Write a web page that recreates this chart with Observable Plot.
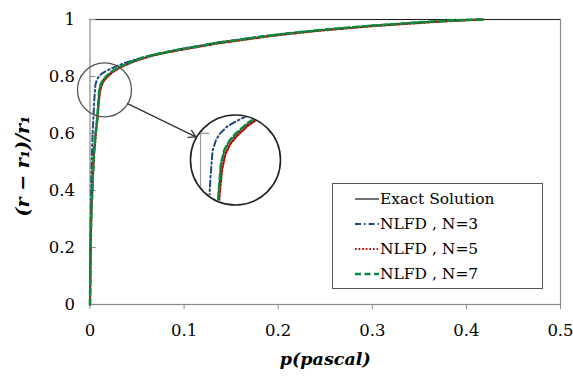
<!DOCTYPE html>
<html>
<head>
<meta charset="utf-8">
<script src="https://cdn.jsdelivr.net/npm/d3@7"></script>
<script src="https://cdn.jsdelivr.net/npm/@observablehq/plot@0.6"></script>
<style>
  html, body { margin: 0; padding: 0; background: #fff; }
  #wrap { position: relative; width: 573px; height: 376px; overflow: hidden; }
  #wrap svg { position: absolute; left: 0; top: 0; }
  #legend {
    position: absolute; left: 332px; top: 183px; width: 209px; height: 102px;
    border: 1.3px solid #555; background: #fff; box-sizing: content-box;
    font-family: "DejaVu Serif", serif; font-size: 15.5px; color: #000;
    padding-top: 2px;
  }
  #legend .row { display: flex; align-items: center; height: 25px; white-space: pre; }
  #legend svg { position: static; margin-left: 22px; margin-right: 1px; }
</style>
</head>
<body>
<div id="wrap"></div>
<script>
// ---- data ----
const xTicks = [0, 0.1, 0.2, 0.3, 0.4, 0.5];
const xTickLabels = ["0", "0.1", "0.2", "0.3", "0.4", "0.5"];
const yTicks = [0, 0.2, 0.4, 0.6, 0.8, 1];
const yTickLabels = ["0", "0.2", "0.4", "0.6", "0.8", "1"];

const exactX = [0, 0.0005, 0.001, 0.0015, 0.0023, 0.003, 0.004, 0.0058, 0.0077, 0.0088, 0.0098, 0.0115, 0.014, 0.017, 0.023, 0.031, 0.048, 0.066, 0.083, 0.101, 0.12, 0.137, 0.155, 0.172, 0.19, 0.208, 0.227, 0.245, 0.263, 0.28, 0.298, 0.316, 0.333, 0.351, 0.369, 0.386, 0.404, 0.418];
const exactY = [0, 0.15, 0.27, 0.34, 0.40, 0.46, 0.53, 0.60, 0.656, 0.71, 0.75, 0.772, 0.787, 0.798, 0.816, 0.832, 0.856, 0.874, 0.886, 0.897, 0.908, 0.918, 0.926, 0.934, 0.942, 0.949, 0.956, 0.962, 0.967, 0.972, 0.977, 0.981, 0.985, 0.989, 0.993, 0.996, 0.998, 1.0];

const n3X = [0, 0.0003, 0.0006, 0.001, 0.0015, 0.002, 0.0028, 0.0038, 0.0048, 0.0058, 0.0075, 0.0095, 0.0125, 0.016, 0.02, 0.03, 0.041, 0.055, 0.07, 0.085, 0.101, 0.12, 0.137, 0.155, 0.172, 0.19, 0.208, 0.227, 0.245, 0.263, 0.28, 0.298, 0.316, 0.333, 0.351, 0.369, 0.386, 0.404, 0.418];
const n3Y = [0, 0.15, 0.27, 0.36, 0.45, 0.52, 0.60, 0.67, 0.73, 0.772, 0.79, 0.80, 0.81, 0.817, 0.824, 0.839, 0.852, 0.866, 0.878, 0.889, 0.899, 0.91, 0.92, 0.928, 0.936, 0.944, 0.951, 0.957, 0.963, 0.968, 0.973, 0.978, 0.982, 0.986, 0.99, 0.993, 0.996, 0.999, 1.0];

const n5X = [0, 0.0006, 0.0011, 0.0017, 0.0025, 0.0033, 0.0044, 0.0062, 0.0081, 0.0093, 0.0104, 0.012, 0.0146, 0.0176, 0.0235, 0.0315, 0.0485, 0.066, 0.083, 0.101, 0.12, 0.137, 0.155, 0.172, 0.19, 0.208, 0.227, 0.245, 0.263, 0.28, 0.298, 0.316, 0.333, 0.351, 0.369, 0.386, 0.404, 0.418];
const n5Y = [0, 0.15, 0.27, 0.34, 0.40, 0.46, 0.53, 0.60, 0.656, 0.705, 0.742, 0.767, 0.784, 0.796, 0.814, 0.831, 0.855, 0.873, 0.885, 0.896, 0.907, 0.917, 0.925, 0.933, 0.941, 0.948, 0.955, 0.961, 0.966, 0.971, 0.976, 0.98, 0.984, 0.988, 0.992, 0.995, 0.998, 1.0];

const n7X = [0, 0.0005, 0.001, 0.0016, 0.0024, 0.0031, 0.0041, 0.0059, 0.0078, 0.0089, 0.0099, 0.0116, 0.0141, 0.0171, 0.023, 0.031, 0.048, 0.066, 0.083, 0.101, 0.12, 0.137, 0.155, 0.172, 0.19, 0.208, 0.227, 0.245, 0.263, 0.28, 0.298, 0.316, 0.333, 0.351, 0.369, 0.386, 0.404, 0.418];
const n7Y = [0, 0.15, 0.27, 0.34, 0.40, 0.46, 0.53, 0.60, 0.656, 0.712, 0.752, 0.774, 0.789, 0.8, 0.817, 0.833, 0.857, 0.875, 0.887, 0.898, 0.909, 0.919, 0.927, 0.935, 0.943, 0.95, 0.957, 0.963, 0.968, 0.973, 0.978, 0.982, 0.986, 0.99, 0.994, 0.997, 0.999, 1.0];

const seriesNames = ["Exact Solution", "NLFD , N=3", "NLFD , N=5", "NLFD , N=7"];

// zoom annotation (data units)
const smallCircle = [{x: 0.0154, y: 0.753}];
const bigCircle = [{x: 0.1546, y: 0.507}];
const arrowSeg = [{x1: 0.0399, y1: 0.705, x2: 0.1125, y2: 0.588}];
const insetXDomain = [-0.0534, 0.1739];
const insetYDomain = [0.5271, 0.9816];

// ---- build ----
const rows = (xs, ys) => xs.map((x, i) => ({x, y: ys[i]}));
const exact = rows(exactX, exactY), n3 = rows(n3X, n3Y), n5 = rows(n5X, n5Y), n7 = rows(n7X, n7Y);

const styles = [
  {stroke: "#000", strokeWidth: 1.1},
  {stroke: "#1f4a7c", strokeWidth: 2, strokeDasharray: "6,3,1.6,3"},
  {stroke: "#c00000", strokeWidth: 2.2, strokeDasharray: "1.6,2"},
  {stroke: "#0d8a3e", strokeWidth: 2.6, strokeDasharray: "6,3.5"}
];
const lineMarks = () => [exact, n3, n5, n7].map((d, i) => Plot.line(d, {x: "x", y: "y", ...styles[i]}));

const W = 573, H = 376;
const margins = {marginLeft: 89.5, marginRight: 13, marginTop: 19, marginBottom: 72};

const main = Plot.plot({
  width: W, height: H, ...margins,
  style: {fontFamily: "DejaVu Serif, serif", fontSize: "16.5px", color: "#000", background: "transparent"},
  x: {domain: [0, 0.5], ticks: xTicks, tickSize: 0, tickPadding: 20, tickFormat: (d, i) => xTickLabels[i], label: null},
  y: {domain: [0, 1], ticks: yTicks, tickSize: 0, tickPadding: 15, tickFormat: (d, i) => yTickLabels[i], label: null},
  marks: [
    Plot.frame({stroke: "#8a8a8a", strokeWidth: 1.2}),
    Plot.ruleY([1], {stroke: "#222", strokeWidth: 1.2}),
    Plot.ruleX(xTicks, {y1: 0, y2: -0.018, stroke: "#8a8a8a"}),
    Plot.ruleY(yTicks, {x1: 0, x2: 0.0065, stroke: "#8a8a8a"}),
    ...lineMarks(),
    Plot.dot(smallCircle, {x: "x", y: "y", r: 27, stroke: "#555", strokeWidth: 1.3, fill: "none"}),
    Plot.dot(bigCircle, {x: "x", y: "y", r: 45, stroke: "#222", strokeWidth: 1.6, fill: "white"}),
    Plot.arrow(arrowSeg, {x1: "x1", y1: "y1", x2: "x2", y2: "y2", stroke: "#333", strokeWidth: 1.3, headLength: 9}),
    Plot.text(["p(pascal)"], {frameAnchor: "bottom", lineAnchor: "middle", textAnchor: "middle", dy: 55, fontWeight: "bold", fontStyle: "italic", fontSize: 17.5}),
    Plot.text(["(r \u2212 r\u2081)/r\u2081"], {frameAnchor: "left", textAnchor: "middle", lineAnchor: "middle", rotate: -90, dx: -67, dy: 4, fontWeight: "bold", fontStyle: "italic", fontSize: 19})
  ]
});

const cx = main.scale("x").apply(bigCircle[0].x);
const cy = main.scale("y").apply(bigCircle[0].y);

const inset = Plot.plot({
  width: W, height: H, ...margins,
  style: {background: "transparent"},
  x: {domain: insetXDomain, axis: null},
  y: {domain: insetYDomain, axis: null},
  marks: [
    Plot.ruleX([0], {y1: 0.5, y2: 0.8, stroke: "#999", strokeWidth: 1.2}),
    Plot.ruleY([0.8], {x1: 0, x2: 0.0045, stroke: "#999", strokeWidth: 1.2}),
    ...lineMarks()
  ]
});
inset.style.clipPath = `circle(${44}px at ${cx}px ${cy}px)`;

const wrap = document.getElementById("wrap");
wrap.appendChild(main);
wrap.appendChild(inset);

// legend
const legend = document.createElement("div");
legend.id = "legend";
seriesNames.forEach((name, i) => {
  const row = document.createElement("div");
  row.className = "row";
  const s = styles[i];
  row.innerHTML = `<svg width="24" height="10"><line x1="0" x2="24" y1="5" y2="5" stroke="${s.stroke}" stroke-width="${s.strokeWidth}" ${s.strokeDasharray ? `stroke-dasharray="${s.strokeDasharray}"` : ""}/></svg><span>${name}</span>`;
  legend.appendChild(row);
});
wrap.appendChild(legend);
</script>
</body>
</html>
